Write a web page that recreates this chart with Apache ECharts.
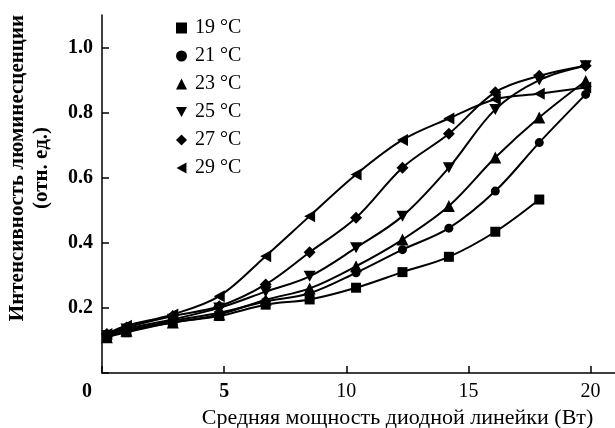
<!DOCTYPE html>
<html><head><meta charset="utf-8">
<script src="https://cdn.jsdelivr.net/npm/echarts@6/dist/echarts.min.js"></script>
<style>html,body{margin:0;padding:0;background:#fff}#c{width:615px;height:428px}</style>
</head><body><div id="c"></div>
<script>
const xValues = [0.2, 1.0, 2.9, 4.8, 6.7, 8.5, 10.4, 12.3, 14.2, 16.1, 17.9, 19.8];
const seriesNames = ['19 °C', '21 °C', '23 °C', '25 °C', '27 °C', '29 °C'];
const s19 = [0.11, 0.125, 0.155, 0.175, 0.21, 0.226, 0.262, 0.31, 0.357, 0.434, 0.533];
const s21 = [0.11, 0.13, 0.16, 0.185, 0.22, 0.245, 0.308, 0.379, 0.445, 0.559, 0.708, 0.856];
const s23 = [0.11, 0.13, 0.155, 0.18, 0.225, 0.26, 0.328, 0.41, 0.513, 0.662, 0.785, 0.897];
const s25 = [0.115, 0.135, 0.165, 0.2, 0.25, 0.297, 0.385, 0.482, 0.631, 0.81, 0.9, 0.944];
const s27 = [0.12, 0.14, 0.175, 0.205, 0.272, 0.371, 0.477, 0.631, 0.735, 0.863, 0.913, 0.944];
const s29 = [0.12, 0.145, 0.18, 0.236, 0.359, 0.482, 0.61, 0.716, 0.782, 0.841, 0.858, 0.877];
const allValues = [s19, s21, s23, s25, s27, s29];

const symbols = ['rect', 'circle', 'triangle', 'path://M0,0 L10,0 L5,9 Z', 'diamond', 'path://M9,0 L9,10 L0,5 Z'];
const sizes = [10, 9, 12, [12, 11], 12, [11, 12]];

const chart = echarts.init(document.getElementById('c'));
const serif = '"Liberation Serif", "DejaVu Serif", serif';
chart.setOption({
  animation: false,
  backgroundColor: '#fff',
  grid: { left: 102, right: 0, top: 15, bottom: 55, containLabel: false, outerBoundsMode: 'none' },
  legend: {
    orient: 'vertical', left: 171, top: 13, itemGap: 8,
    itemWidth: 11, itemHeight: 11,
    textStyle: { fontFamily: serif, fontSize: 20, color: '#000', lineHeight: 20, padding: [0, 0, 0, 3] },
    data: seriesNames.map((n, i) => ({ name: n, icon: symbols[i] }))
  },
  xAxis: {
    type: 'value', min: 0, max: 21, interval: 5,
    name: 'Средняя мощность диодной линейки (Вт)', nameLocation: 'middle', nameGap: 27,
    nameTextStyle: { fontFamily: serif, fontSize: 22, color: '#000', padding: [0, 0, 0, 78] },
    axisLine: { lineStyle: { color: '#000', width: 1.5 } },
    axisTick: { inside: true, length: 7, lineStyle: { color: '#000', width: 1.5 } },
    splitLine: { show: false },
    axisLabel: {
      showMaxLabel: false, margin: 9,
      fontFamily: serif, fontSize: 20, color: '#000',
      formatter: v => v === 0 ? '{z|0}' : (v === 5 ? '{b|5}' : (v > 20 ? '' : String(v))),
      rich: {
        z: { fontFamily: serif, fontSize: 20, fontWeight: 'bold', color: '#000', padding: [0, 30, 0, 0] },
        b: { fontFamily: serif, fontSize: 20, fontWeight: 'bold', color: '#000' }
      }
    }
  },
  yAxis: {
    type: 'value', min: 0, max: 1.1, interval: 0.2,
    name: 'Интенсивность люминесценции\n(отн. ед.)', nameLocation: 'middle', nameRotate: 90, nameGap: 48,
    nameTextStyle: { fontFamily: serif, fontSize: 21, fontWeight: 'bold', color: '#000', lineHeight: 24, padding: [0, 0, 0, 52] },
    axisLine: { lineStyle: { color: '#000', width: 1.5 } },
    axisTick: { inside: true, length: 7, lineStyle: { color: '#000', width: 1.5 } },
    splitLine: { show: false },
    axisLabel: {
      showMaxLabel: false, margin: 9,
      fontFamily: serif, fontSize: 20, fontWeight: 'bold', color: '#000',
      formatter: v => (v === 0 || v > 1.05) ? '' : v.toFixed(1)
    }
  },
  series: allValues.map((vals, i) => ({
    name: seriesNames[i], type: 'line', smooth: 0.35,
    symbol: symbols[i], symbolSize: sizes[i],
    lineStyle: { color: '#000', width: 2 },
    itemStyle: { color: '#000', borderWidth: 0 },
    data: vals.map((v, j) => [xValues[j], v])
  }))
});
</script></body></html>
